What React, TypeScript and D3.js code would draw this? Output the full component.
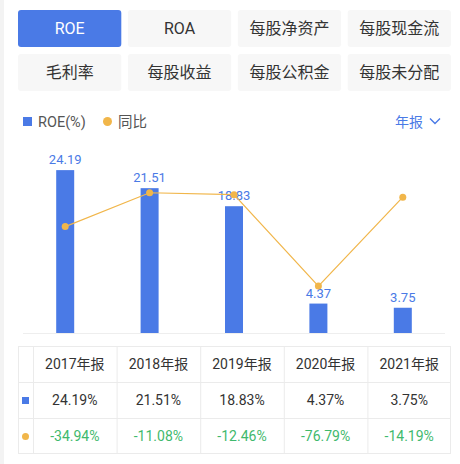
import * as d3 from "d3";
import React, { useEffect, useRef } from "react";

const tabs = ["ROE", "ROA", "每股净资产", "每股现金流", "毛利率", "每股收益", "每股公积金", "每股未分配"];
const years = ["2017年报", "2018年报", "2019年报", "2020年报", "2021年报"];
const roe = [24.19, 21.51, 18.83, 4.37, 3.75];
const yoy = [-34.94, -11.08, -12.46, -76.79, -14.19];

const BLUE = "#4a7ae6";
const ORANGE = "#f1b64a";
const GREEN = "#3fb96d";
const FONT = "Roboto, 'Noto Sans CJK SC', sans-serif";

export default function App() {
  const svgRef = useRef<SVGSVGElement | null>(null);

  useEffect(() => {
    const svg = d3.select(svgRef.current);
    svg.selectAll("*").remove();
    svg.style("font-family", FONT);

    svg.append("rect").attr("width", 460).attr("height", 464).attr("fill", "#fff");
    svg.append("rect").attr("width", 4).attr("height", 464).attr("fill", "#f3f3f3");

    // tab buttons
    const tx = d3.scaleBand().domain(d3.range(4).map(String)).range([18, 451]).paddingInner(0.06);
    const ty = d3.scaleBand().domain(["0", "1"]).range([10, 91]).paddingInner(0.16);
    const tg = svg.selectAll(".tab").data(tabs).enter().append("g").attr("class", "tab");
    tg.append("rect")
      .attr("x", (d, i) => tx(String(i % 4))!)
      .attr("y", (d, i) => ty(String(Math.floor(i / 4)))!)
      .attr("width", tx.bandwidth())
      .attr("height", ty.bandwidth())
      .attr("rx", 3)
      .attr("fill", (d, i) => (i === 0 ? BLUE : "#f7f7f7"));
    tg.append("text")
      .attr("x", (d, i) => tx(String(i % 4))! + tx.bandwidth() / 2)
      .attr("y", (d, i) => ty(String(Math.floor(i / 4)))! + ty.bandwidth() / 2 + 5.5)
      .attr("text-anchor", "middle")
      .attr("font-size", 16)
      .attr("fill", (d, i) => (i === 0 ? "#fff" : "#333"))
      .text((d) => d);

    // legend
    svg.append("rect").attr("x", 23).attr("y", 117).attr("width", 9).attr("height", 9).attr("fill", BLUE);
    svg.append("text").attr("x", 38).attr("y", 126.5).attr("font-size", 14.5).attr("fill", "#555").text("ROE(%)");
    svg.append("circle").attr("cx", 107.5).attr("cy", 121.5).attr("r", 4.5).attr("fill", ORANGE);
    svg.append("text").attr("x", 118).attr("y", 126.5).attr("font-size", 14.5).attr("fill", "#555").text("同比");
    svg.append("text").attr("x", 395).attr("y", 126.5).attr("font-size", 14).attr("fill", BLUE).text("年报");
    svg.append("path").attr("d", "M430,118.5 L435,123.5 L440,118.5").attr("fill", "none").attr("stroke", BLUE).attr("stroke-width", 1.4);

    // chart
    const x = d3.scaleBand().domain(years).range([23, 445]);
    const y = d3.scaleLinear().domain([0, 30]).range([333, 131]);
    const y2 = d3.scaleLinear().domain([-100, 0]).range([319, 177]);
    const bw = 18;

    svg.append("line").attr("x1", 23).attr("x2", 445).attr("y1", 333.5).attr("y2", 333.5).attr("stroke", "#eee");

    svg.selectAll(".bar").data(roe).enter().append("rect")
      .attr("class", "bar")
      .attr("x", (d, i) => x(years[i])! + x.bandwidth() / 2 - bw / 2)
      .attr("y", (d) => y(d))
      .attr("width", bw)
      .attr("height", (d) => y(0) - y(d))
      .attr("fill", BLUE);

    svg.selectAll(".bar-label").data(roe).enter().append("text")
      .attr("class", "bar-label")
      .attr("x", (d, i) => x(years[i])! + x.bandwidth() / 2)
      .attr("y", (d) => y(d) - 6)
      .attr("text-anchor", "middle")
      .attr("font-size", 13)
      .attr("fill", BLUE)
      .text((d) => d.toFixed(2));

    const line = d3.line<number>()
      .x((d, i) => x(years[i])! + x.bandwidth() / 2)
      .y((d) => y2(d));
    svg.append("path").datum(yoy).attr("d", line).attr("fill", "none").attr("stroke", ORANGE).attr("stroke-width", 1.2);
    svg.selectAll(".dot").data(yoy).enter().append("circle")
      .attr("cx", (d, i) => x(years[i])! + x.bandwidth() / 2)
      .attr("cy", (d) => y2(d))
      .attr("r", 3.5)
      .attr("fill", ORANGE);

    // table
    const cols = d3.scaleBand().domain(years).range([33, 451]);
    const rowsY = [346, 382, 418, 454];
    const grid = "#ebebeb";
    svg.append("rect").attr("x", 18.5).attr("y", 346.5).attr("width", 432).attr("height", 107).attr("fill", "none").attr("stroke", grid);
    rowsY.slice(1, 3).forEach((ry) =>
      svg.append("line").attr("x1", 18.5).attr("x2", 450.5).attr("y1", ry + 0.5).attr("y2", ry + 0.5).attr("stroke", grid));
    [33, ...years.slice(1).map((d) => cols(d)!)].forEach((cx) =>
      svg.append("line").attr("x1", cx + 0.5).attr("x2", cx + 0.5).attr("y1", 346.5).attr("y2", 453.5).attr("stroke", grid));

    const cellText = (vals: string[], row: number, color: string) =>
      svg.selectAll(`.row${row}`).data(vals).enter().append("text")
        .attr("x", (d, i) => cols(years[i])! + cols.bandwidth() / 2)
        .attr("y", (rowsY[row] + rowsY[row + 1]) / 2 + 5)
        .attr("text-anchor", "middle")
        .attr("font-size", 14)
        .attr("fill", color)
        .text((d) => d);
    cellText(years, 0, "#333");
    cellText(roe.map((d) => d.toFixed(2) + "%"), 1, "#333");
    cellText(yoy.map((d) => d.toFixed(2) + "%"), 2, GREEN);

    svg.append("rect").attr("x", 22).attr("y", 397).attr("width", 7).attr("height", 7).attr("fill", BLUE);
    svg.append("circle").attr("cx", 25.5).attr("cy", 436.5).attr("r", 3.5).attr("fill", ORANGE);
  }, []);

  return (
    <svg
      ref={svgRef}
      width={460}
      height={464}
      style={{ position: "absolute", left: 0, top: 0 }}
    />
  );
}
